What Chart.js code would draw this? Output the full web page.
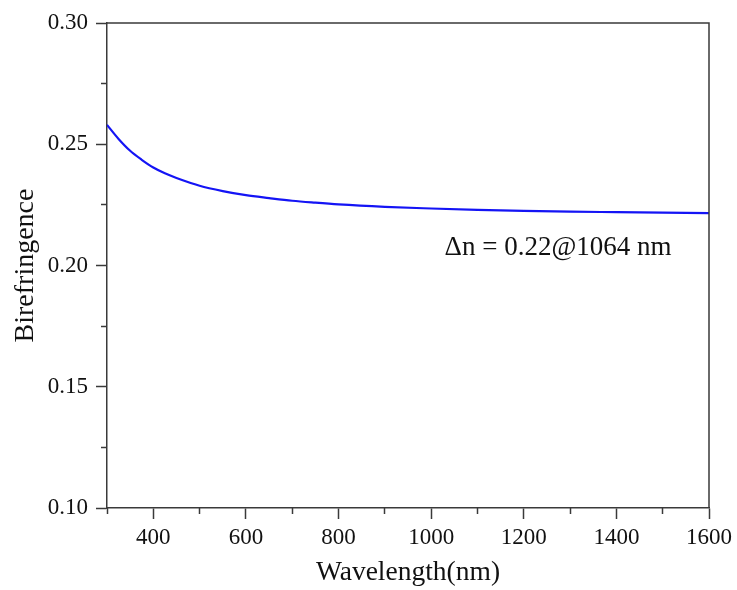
<!DOCTYPE html>
<html>
<head>
<meta charset="utf-8">
<script src="https://cdn.jsdelivr.net/npm/chart.js@4"></script>
<style>
  html, body { margin: 0; padding: 0; background: #ffffff; }
  #c { display: block; }
</style>
</head>
<body>
<canvas id="c" width="737" height="590"></canvas>
<script>
// Birefringence dispersion curve (wavelength in nm)
const wavelengths = [300, 325, 350, 375, 400, 425, 450, 500, 550, 600, 650, 700, 750, 800, 900, 1000, 1100, 1200, 1300, 1400, 1500, 1600];
const birefringence = [0.2580, 0.2522, 0.2473, 0.2436, 0.2404, 0.2380, 0.2361, 0.2329, 0.2307, 0.2290, 0.2278, 0.2267, 0.2259, 0.2252, 0.2242, 0.2235, 0.2229, 0.2225, 0.2222, 0.2220, 0.2218, 0.2216];

// Axis ticks
const xTickValues = [400, 600, 800, 1000, 1200, 1400, 1600];
const xTickLabels = ['400', '600', '800', '1000', '1200', '1400', '1600'];
const xMinorTickValues = [300, 500, 700, 900, 1100, 1300, 1500];
const yTickValues = [0.10, 0.15, 0.20, 0.25, 0.30];
const yTickLabels = ['0.10', '0.15', '0.20', '0.25', '0.30'];
const yMinorTickValues = [0.125, 0.175, 0.225, 0.275];

const xTitle = 'Wavelength(nm)';
const yTitle = 'Birefringence';
const noteText = 'Δn = 0.22@1064 nm';

const SERIF = '"Liberation Serif", "Times New Roman", serif';
const AXIS_COLOR = '#3a3a3a';
const TEXT_COLOR = '#111111';

// Top and right edges of the plot frame
const framePlugin = {
  id: 'frame',
  afterDatasetsDraw(chart) {
    const { ctx, chartArea: a } = chart;
    ctx.save();
    ctx.strokeStyle = AXIS_COLOR;
    ctx.lineWidth = 1.5;
    ctx.beginPath();
    ctx.moveTo(a.left, a.top);
    ctx.lineTo(a.right, a.top);
    ctx.lineTo(a.right, a.bottom);
    ctx.stroke();
    ctx.restore();
  }
};

// Text note placed in data coordinates
const notePlugin = {
  id: 'note',
  afterDatasetsDraw(chart, args, opts) {
    const { ctx, scales } = chart;
    const px = scales.x.getPixelForValue(opts.x);
    const py = scales.y.getPixelForValue(opts.y);
    ctx.save();
    ctx.font = opts.font;
    ctx.fillStyle = TEXT_COLOR;
    ctx.textAlign = 'left';
    ctx.textBaseline = 'middle';
    ctx.fillText(opts.text, px, py);
    ctx.restore();
  }
};

const valueTicks = (values) => (scale) => {
  scale.ticks = values.map(v => ({ value: v }));
};

new Chart(document.getElementById('c'), {
  type: 'line',
  data: {
    datasets: [{
      data: wavelengths.map((w, i) => ({ x: w, y: birefringence[i] })),
      borderColor: '#1414f5',
      borderWidth: 2.2,
      pointRadius: 0,
      fill: false,
      cubicInterpolationMode: 'monotone',
      xAxisID: 'x',
      yAxisID: 'y'
    }]
  },
  options: {
    responsive: false,
    devicePixelRatio: 1,
    animation: false,
    events: [],
    layout: { padding: { top: 23, right: 27, bottom: 0, left: 0 } },
    plugins: {
      legend: { display: false },
      tooltip: { enabled: false },
      note: { text: noteText, x: 1029, y: 0.2074, font: '27px ' + SERIF }
    },
    scales: {
      x: {
        type: 'linear',
        position: 'bottom',
        weight: 1,
        min: 300,
        max: 1600,
        afterBuildTicks: valueTicks(xTickValues),
        afterFit(s) { s.height = 82; },
        ticks: {
          color: TEXT_COLOR,
          font: { family: SERIF, size: 23 },
          padding: 5,
          maxRotation: 0,
          autoSkip: false,
          callback: (v) => xTickLabels[xTickValues.indexOf(v)]
        },
        grid: { drawOnChartArea: false, tickLength: 11, tickWidth: 1.5, color: AXIS_COLOR },
        border: { color: AXIS_COLOR, width: 1.5 },
        title: {
          display: true,
          text: xTitle,
          color: TEXT_COLOR,
          font: { family: SERIF, size: 27.5 },
          padding: { top: 0, bottom: 1 }
        }
      },
      xMinor: {
        type: 'linear',
        position: 'bottom',
        weight: 0,
        min: 300,
        max: 1600,
        afterBuildTicks: valueTicks(xMinorTickValues),
        afterFit(s) { s.height = 0; },
        ticks: { display: false },
        grid: { drawOnChartArea: false, tickLength: 6, tickWidth: 1.5, color: AXIS_COLOR },
        border: { display: false }
      },
      y: {
        type: 'linear',
        position: 'left',
        weight: 1,
        min: 0.10,
        max: 0.30,
        afterBuildTicks: valueTicks(yTickValues),
        afterFit(s) { s.width = 107; },
        ticks: {
          color: TEXT_COLOR,
          font: { family: SERIF, size: 23 },
          padding: 8,
          autoSkip: false,
          callback: (v) => yTickLabels[yTickValues.findIndex(t => Math.abs(t - v) < 1e-9)]
        },
        grid: { drawOnChartArea: false, tickLength: 11, tickWidth: 1.5, color: AXIS_COLOR },
        border: { color: AXIS_COLOR, width: 1.5 },
        title: {
          display: true,
          text: yTitle,
          color: TEXT_COLOR,
          font: { family: SERIF, size: 28 },
          padding: { top: 9, bottom: 0 }
        }
      },
      yMinor: {
        type: 'linear',
        position: 'left',
        weight: 0,
        min: 0.10,
        max: 0.30,
        afterBuildTicks: valueTicks(yMinorTickValues),
        afterFit(s) { s.width = 0; },
        ticks: { display: false },
        grid: { drawOnChartArea: false, tickLength: 6, tickWidth: 1.5, color: AXIS_COLOR },
        border: { display: false }
      }
    }
  },
  plugins: [framePlugin, notePlugin]
});
</script>
</body>
</html>
